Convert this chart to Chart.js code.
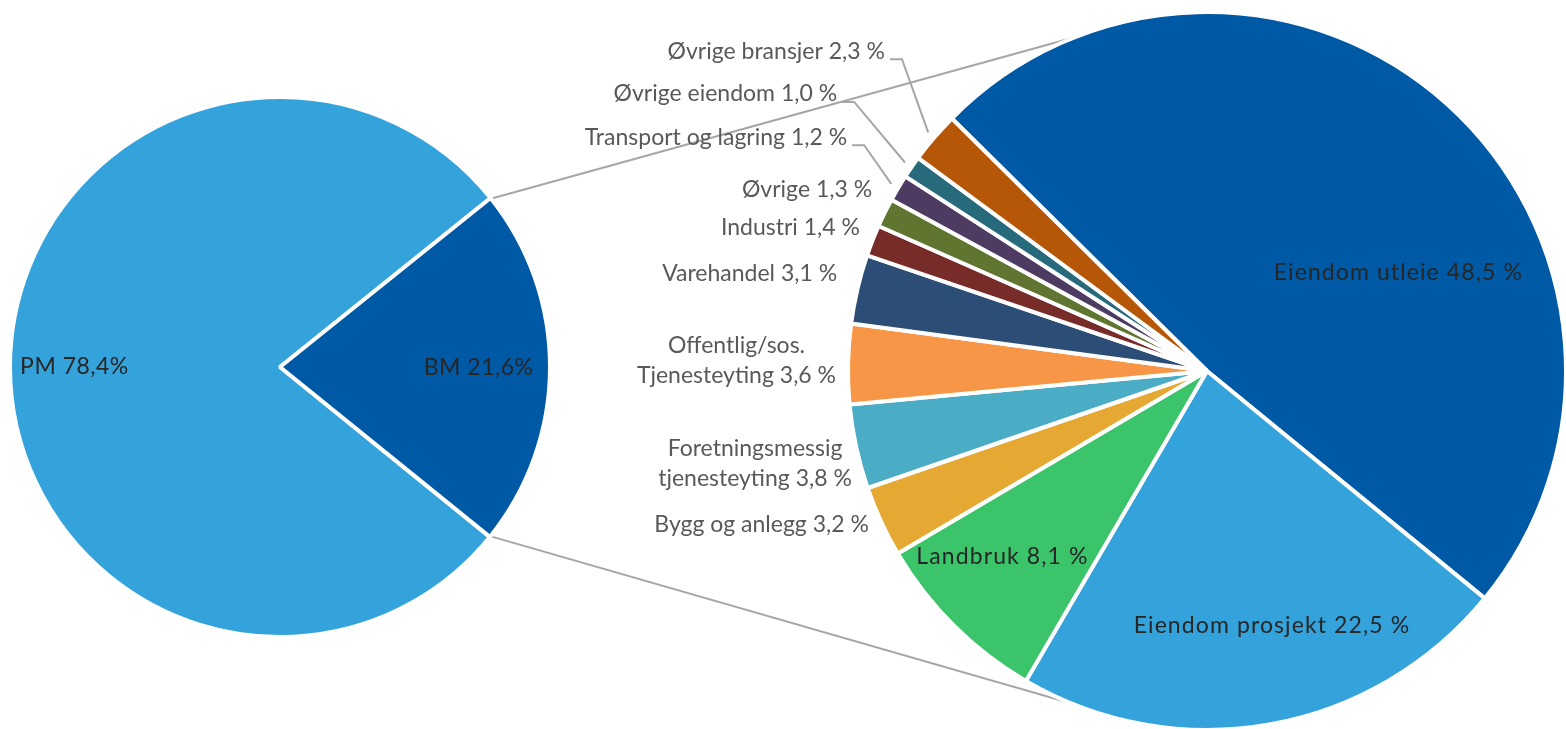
<!DOCTYPE html>
<html>
<head>
<meta charset="utf-8">
<script src="https://cdn.jsdelivr.net/npm/chart.js@4.4.1/dist/chart.umd.min.js"></script>
<style>
  html, body { margin: 0; padding: 0; background: #ffffff; }
  #wrap { position: relative; width: 1566px; height: 729px; overflow: hidden; background: #ffffff; }
  #wrap canvas { position: absolute; top: 0; left: 0; }
</style>
</head>
<body>
<div id="wrap">
  <canvas id="detail" width="1566" height="729"></canvas>
  <canvas id="overview" width="560" height="729"></canvas>
</div>
<script>
// Portfolio split, percent
const mainLabels = ['PM', 'BM'];
const mainValues = [78.4, 21.6];
const mainColors = ['#34A3DC', '#0059A5'];

// BM broken down by sector, percent
const sectorLabels = [
  'Eiendom utleie',
  'Eiendom prosjekt',
  'Landbruk',
  'Bygg og anlegg',
  ['Foretningsmessig', 'tjenesteyting'],
  ['Offentlig/sos.', 'Tjenesteyting'],
  'Varehandel',
  'Industri',
  'Øvrige',
  'Transport og lagring',
  'Øvrige eiendom',
  'Øvrige bransjer'
];
const sectorValues = [48.5, 22.5, 8.1, 3.2, 3.8, 3.6, 3.1, 1.4, 1.3, 1.2, 1.0, 2.3];
const sectorColors = [
  '#0059A5', '#34A3DC', '#3CC46B', '#E5A833', '#4BACC6', '#F79646',
  '#2C4D75', '#772C2A', '#5F7530', '#4D3B62', '#276A7C', '#B65708'
];

// Label placement around the detail pie, in units of its radius from the centre
const sectorPlacement = [
  { fx: 0.536,  fy: -0.275, align: 'center', inside: true },
  { fx: 0.182,  fy: 0.714,  align: 'center', inside: true },
  { fx: -0.573, fy: 0.521,  align: 'center', inside: true },
  { fx: -0.947, fy: 0.429,  align: 'right' },
  { fx: -1.266, fy: 0.258,  align: 'center' },
  { fx: -1.318, fy: -0.029, align: 'center' },
  { fx: -1.036, fy: -0.272, align: 'right' },
  { fx: -0.972, fy: -0.401, align: 'right' },
  { fx: -0.938, fy: -0.507, align: 'right' },
  { fx: -1.008, fy: -0.655, align: 'right', leader: true },
  { fx: -1.036, fy: -0.776, align: 'right', leader: true },
  { fx: -0.902, fy: -0.896, align: 'right', leader: true }
];
// Label distance from the centre of the overview pie, in units of its radius
const mainLabelRadius = [0.767, 0.741];

const FONT = '23px Lato, "Open Sans", sans-serif';
const DARK_TEXT = '#262626';
const GREY_TEXT = '#595959';
const LINE_GREY = '#A6A6A6';
const BORDER = 4;

const pct = (v, sep) => v.toFixed(1).replace('.', ',') + sep + '%';

// Overview pie: labels inside the slices
const overviewLabels = {
  id: 'overviewLabels',
  afterDatasetsDraw(chart) {
    const ctx = chart.ctx;
    const meta = chart.getDatasetMeta(0);
    ctx.save();
    ctx.font = FONT;
    ctx.letterSpacing = '0.5px';
    ctx.fillStyle = DARK_TEXT;
    ctx.textAlign = 'center';
    ctx.textBaseline = 'middle';
    meta.data.forEach((arc, i) => {
      const mid = (arc.startAngle + arc.endAngle) / 2;
      const r = (arc.outerRadius - BORDER / 2) * mainLabelRadius[i];
      ctx.fillText(mainLabels[i] + ' ' + pct(mainValues[i], ''),
        arc.x + Math.cos(mid) * r, arc.y + Math.sin(mid) * r);
    });
    ctx.restore();
  }
};

const overview = new Chart(document.getElementById('overview'), {
  type: 'pie',
  data: {
    labels: mainLabels,
    datasets: [{
      data: mainValues,
      backgroundColor: mainColors,
      borderColor: '#ffffff',
      borderWidth: BORDER,
      hoverOffset: 0
    }]
  },
  options: {
    responsive: false,
    animation: false,
    events: [],
    rotation: 129,
    radius: 270,
    layout: { padding: { left: 12, right: 12, top: 99, bottom: 94 } },
    plugins: { legend: { display: false }, tooltip: { enabled: false } }
  },
  plugins: [overviewLabels]
});

// Tangent point on circle (cx, cy, R) seen from p; side = -1 upper, +1 lower
function tangentPoint(px, py, cx, cy, R, side) {
  const vx = px - cx, vy = py - cy;
  const d = Math.hypot(vx, vy);
  const base = Math.atan2(vy, vx);
  const a = Math.acos(R / d);
  const c1 = [cx + R * Math.cos(base + a), cy + R * Math.sin(base + a)];
  const c2 = [cx + R * Math.cos(base - a), cy + R * Math.sin(base - a)];
  if (side < 0) return c1[1] < c2[1] ? c1 : c2;
  return c1[1] > c2[1] ? c1 : c2;
}

// Lines joining the BM slice to the detail pie
const connectors = {
  id: 'connectors',
  beforeDatasetsDraw(chart) {
    const bm = overview.getDatasetMeta(0).data[1];
    const R0 = bm.outerRadius - BORDER / 2;
    const ends = [bm.startAngle, bm.endAngle].map(a => [bm.x + Math.cos(a) * R0, bm.y + Math.sin(a) * R0]);
    const arc = chart.getDatasetMeta(0).data[0];
    const R = arc.outerRadius - BORDER / 2;
    const ctx = chart.ctx;
    ctx.save();
    ctx.strokeStyle = LINE_GREY;
    ctx.lineWidth = 2;
    ends.forEach(([px, py]) => {
      const side = py < bm.y ? -1 : 1;
      const [tx, ty] = tangentPoint(px, py, arc.x, arc.y, R, side);
      ctx.beginPath();
      ctx.moveTo(px, py);
      ctx.lineTo(tx, ty);
      ctx.stroke();
    });
    ctx.restore();
  }
};

// Detail pie labels, with leader lines for the thinnest slices
const detailLabels = {
  id: 'detailLabels',
  afterDatasetsDraw(chart) {
    const ctx = chart.ctx;
    const meta = chart.getDatasetMeta(0);
    const first = meta.data[0];
    const cx = first.x, cy = first.y, R = first.outerRadius - BORDER / 2;
    const lineHeight = 30;
    ctx.save();
    ctx.font = FONT;
    ctx.textBaseline = 'middle';
    meta.data.forEach((arc, i) => {
      const place = sectorPlacement[i];
      const lines = [].concat(sectorLabels[i]);
      lines[lines.length - 1] += ' ' + pct(sectorValues[i], ' ');
      const x = cx + place.fx * R;
      const y = cy + place.fy * R;
      ctx.fillStyle = place.inside ? DARK_TEXT : GREY_TEXT;
      ctx.letterSpacing = place.inside ? '1.1px' : '0px';
      ctx.textAlign = place.align;
      lines.forEach((t, k) => {
        ctx.fillText(t, x, y + (k - (lines.length - 1) / 2) * lineHeight);
      });
      if (place.leader) {
        const mid = (arc.startAngle + arc.endAngle) / 2;
        const ex = cx + Math.cos(mid) * R * 1.028;
        const ey = cy + Math.sin(mid) * R * 1.028;
        const ly = y + 8;
        ctx.strokeStyle = LINE_GREY;
        ctx.lineWidth = 2;
        ctx.beginPath();
        ctx.moveTo(x + 5, ly);
        ctx.lineTo(x + 17, ly);
        ctx.lineTo(ex, ey);
        ctx.stroke();
      }
    });
    ctx.restore();
  }
};

new Chart(document.getElementById('detail'), {
  type: 'pie',
  data: {
    labels: sectorLabels,
    datasets: [{
      data: sectorValues,
      backgroundColor: sectorColors,
      borderColor: '#ffffff',
      borderWidth: BORDER,
      hoverOffset: 0
    }]
  },
  options: {
    responsive: false,
    animation: false,
    events: [],
    rotation: -45.3,
    radius: 359,
    layout: { padding: { left: 850, right: 2, top: 14, bottom: 1 } },
    plugins: { legend: { display: false }, tooltip: { enabled: false } }
  },
  plugins: [connectors, detailLabels]
});
</script>
</body>
</html>
